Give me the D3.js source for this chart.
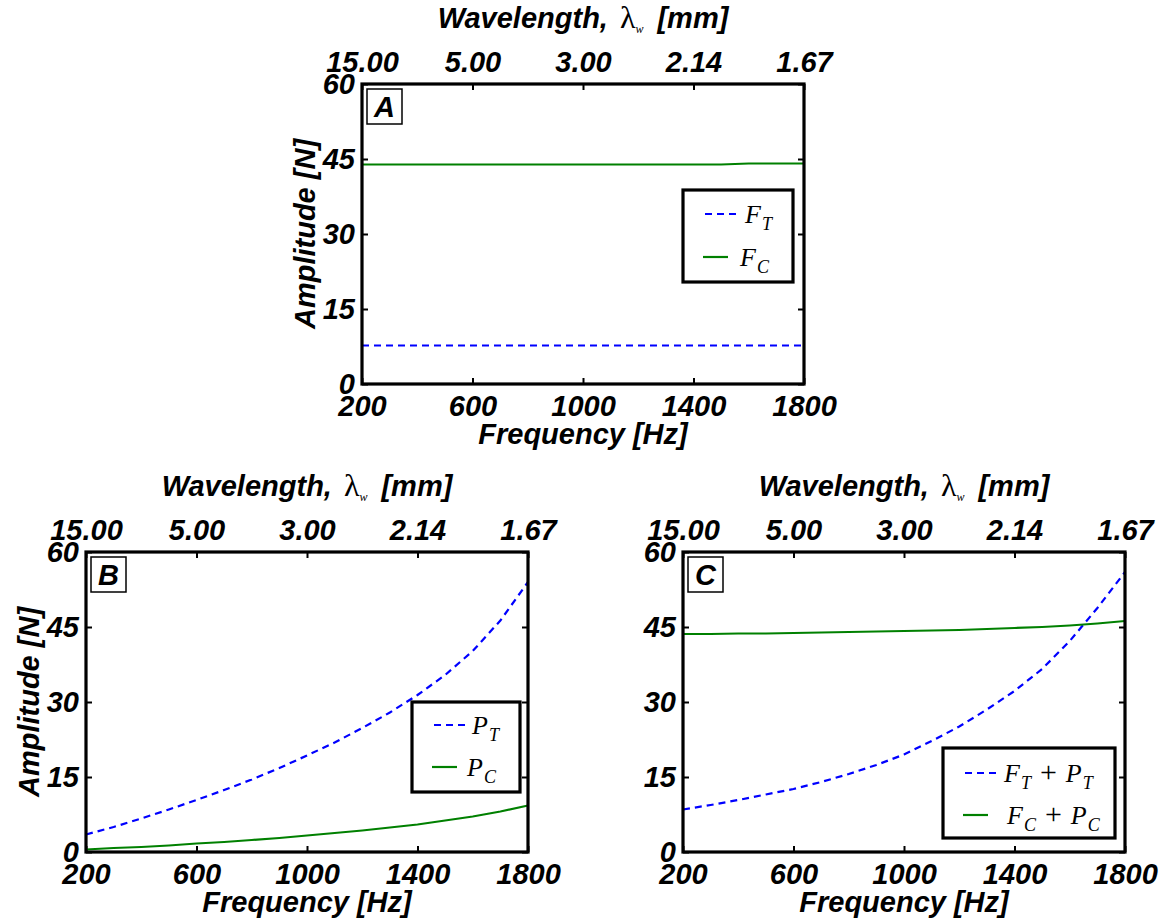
<!DOCTYPE html>
<html>
<head>
<meta charset="utf-8">
<script src="https://cdnjs.cloudflare.com/ajax/libs/d3/7.8.5/d3.min.js"></script>
<style>
  html, body { margin: 0; padding: 0; background: #fff; }
  svg { display: block; }
  .tick text { font-family: "Liberation Sans", Arial, sans-serif; font-weight: 700; font-style: italic; font-size: 29px; fill: #000; }
  .tick line { stroke: #000; stroke-width: 2; }
  .ttl { font-family: "Liberation Sans", Arial, sans-serif; font-weight: 700; font-style: italic; font-size: 29px; fill: #000; }
  .lg { font-family: "Liberation Serif", "Times New Roman", serif; font-size: 26px; fill: #000; }
</style>
</head>
<body>
<svg id="fig" width="1168" height="924"></svg>
<script>
// ─── Data ────────────────────────────────────────────────────────────────────
const freq        = [200, 300, 400, 500, 600, 700, 800, 900, 1000, 1100, 1200, 1300, 1400, 1500, 1600, 1700, 1800];
const freqTicks   = [200, 600, 1000, 1400, 1800];
const waveLabels  = ['15.00', '5.00', '3.00', '2.14', '1.67'];
const ampTicks    = [0, 15, 30, 45, 60];

// panel A : fluid forces
const aFT = [7.7, 7.7, 7.7, 7.7, 7.7, 7.7, 7.7, 7.7, 7.7, 7.7, 7.7, 7.7, 7.7, 7.7, 7.7, 7.7, 7.7];
const aFC = [43.9, 43.9, 43.9, 43.9, 43.9, 43.9, 43.9, 43.9, 43.9, 43.9, 43.9, 43.9, 43.9, 43.9, 44.1, 44.1, 44.1];
// panel B : pressure forces
const bPT = [3.5, 5.0, 6.7, 8.5, 10.4, 12.4, 14.5, 16.8, 19.3, 21.9, 24.8, 27.9, 31.4, 35.4, 40.2, 46.3, 54.0];
const bPC = [0.5, 0.8, 1.0, 1.3, 1.7, 2.0, 2.4, 2.8, 3.3, 3.8, 4.3, 4.9, 5.5, 6.3, 7.1, 8.1, 9.3];
// panel C : totals
const cT  = [8.5, 9.4, 10.4, 11.5, 12.6, 14.0, 15.6, 17.4, 19.5, 22.2, 25.1, 28.5, 32.2, 36.6, 42.2, 48.8, 56.0];
const cC  = [43.6, 43.6, 43.7, 43.7, 43.8, 43.9, 44.0, 44.1, 44.2, 44.3, 44.4, 44.6, 44.8, 45.0, 45.3, 45.7, 46.2];

// ─── Layout ──────────────────────────────────────────────────────────────────
const PW = 442, PH = 300;
const BLUE = '#0000ff', GREEN = '#008000';

const panels = [
  { tag: 'A', left: 362, top: 84, ylab: true,
    series: [{ v: aFT, c: BLUE, dash: true }, { v: aFC, c: GREEN }],
    legend: { x: 683, y: 190, w: 110, h: 92, rows: [24, 67], tx: [62, 57],
              items: [[['F', 'T']], [['F', 'C']]] } },
  { tag: 'B', left: 86, top: 552, ylab: true,
    series: [{ v: bPT, c: BLUE, dash: true }, { v: bPC, c: GREEN }],
    legend: { x: 412, y: 702, w: 108, h: 90, rows: [23, 65], tx: [60, 55],
              items: [[['P', 'T']], [['P', 'C']]] } },
  { tag: 'C', left: 683, top: 552, ylab: false,
    series: [{ v: cT, c: BLUE, dash: true }, { v: cC, c: GREEN }],
    legend: { x: 943, y: 748, w: 172, h: 90, rows: [25, 67], tx: [61, 64],
              items: [[['F', 'T'], ['P', 'T']], [['F', 'C'], ['P', 'C']]] } }
];

const svg = d3.select('#fig');
svg.append('rect').attr('width', 1168).attr('height', 924).attr('fill', '#fff');

const x = d3.scaleLinear().domain([200, 1800]).range([0, PW]);
const y = d3.scaleLinear().domain([0, 60]).range([PH, 0]);

panels.forEach(p => {
  const g = svg.append('g').attr('transform', `translate(${p.left},${p.top})`);

  // axes (ticks point inward)
  const ax = (gen, tr) => {
    const a = g.append('g').attr('transform', tr).call(gen);
    a.select('.domain').remove();
    return a;
  };
  ax(d3.axisBottom(x).tickValues(freqTicks).tickSizeInner(-6).tickSizeOuter(0).tickPadding(11)
       .tickFormat(d3.format('d')), `translate(0,${PH})`);
  ax(d3.axisTop(x).tickValues(freqTicks).tickSizeInner(-6).tickSizeOuter(0).tickPadding(12)
       .tickFormat((d, i) => waveLabels[i]), 'translate(0,0)');
  ax(d3.axisLeft(y).tickValues(ampTicks).tickSizeInner(-6).tickSizeOuter(0).tickPadding(7)
       .tickFormat(d3.format('d')), 'translate(0,0)');
  ax(d3.axisRight(y).tickValues(ampTicks).tickSizeInner(-6).tickSizeOuter(0).tickFormat(''),
     `translate(${PW},0)`);

  // lines
  const line = d3.line().x((d, i) => x(freq[i])).y(d => y(d));
  p.series.forEach(s => {
    g.append('path').datum(s.v)
      .attr('d', line).attr('fill', 'none')
      .attr('stroke', s.c).attr('stroke-width', 2.2)
      .attr('stroke-dasharray', s.dash ? '7,5' : null);
  });

  // frame
  g.append('rect').attr('width', PW).attr('height', PH)
    .attr('fill', 'none').attr('stroke', '#000').attr('stroke-width', 3.2);

  // panel tag box
  g.append('rect').attr('x', 5).attr('y', 5).attr('width', 35).attr('height', 35)
    .attr('fill', '#fff').attr('stroke', '#000').attr('stroke-width', 1.5);
  g.append('text').attr('class', 'ttl').attr('x', 22.5).attr('y', 33)
    .attr('text-anchor', 'middle').text(p.tag);

  // titles
  const wt = g.append('text').attr('class', 'ttl').attr('x', PW / 2).attr('y', -56)
    .attr('text-anchor', 'middle');
  wt.append('tspan').text('Wavelength,');
  wt.append('tspan').attr('dx', 12).attr('font-family', '"Liberation Serif", serif').attr('font-style', 'normal')
    .attr('font-weight', 400).attr('font-size', 32).text('λ');
  wt.append('tspan').attr('font-family', '"Liberation Serif", serif').attr('font-weight', 400)
    .attr('font-size', 12).attr('dy', 5).text('w');
  wt.append('tspan').attr('dx', 14).attr('dy', -5).text('[mm]');

  g.append('text').attr('class', 'ttl').attr('x', PW / 2).attr('y', PH + 60)
    .attr('text-anchor', 'middle').text('Frequency [Hz]');

  if (p.ylab) {
    g.append('text').attr('class', 'ttl')
      .attr('transform', `translate(-47,${PH / 2}) rotate(-90)`)
      .attr('text-anchor', 'middle').text('Amplitude [N]');
  }

  // legend
  const L = p.legend;
  const lg = svg.append('g').attr('transform', `translate(${L.x},${L.y})`);
  lg.append('rect').attr('width', L.w).attr('height', L.h)
    .attr('fill', '#fff').attr('stroke', '#000').attr('stroke-width', 3.2);
  p.series.forEach((s, i) => {
    const ry = L.rows[i];
    lg.append('line')
      .attr('x1', s.dash ? 22 : 20).attr('x2', s.dash ? 56 : 45)
      .attr('y1', ry).attr('y2', ry)
      .attr('stroke', s.c).attr('stroke-width', 2.2)
      .attr('stroke-dasharray', s.dash ? '7,5' : null);
    const t = lg.append('text').attr('class', 'lg').attr('x', L.tx[i]).attr('y', ry + 9);
    L.items[i].forEach((sym, k) => {
      if (k > 0) t.append('tspan').attr('dy', -7).attr('dx', 9).attr('font-size', 30).text('+');
      t.append('tspan').attr('font-style', 'italic').attr('dx', k > 0 ? 9 : null).text(sym[0]);
      t.append('tspan').attr('font-style', 'italic').attr('font-size', 18).attr('dx', 1).attr('dy', 7).text(sym[1]);
    });
  });
});
</script>
</body>
</html>
